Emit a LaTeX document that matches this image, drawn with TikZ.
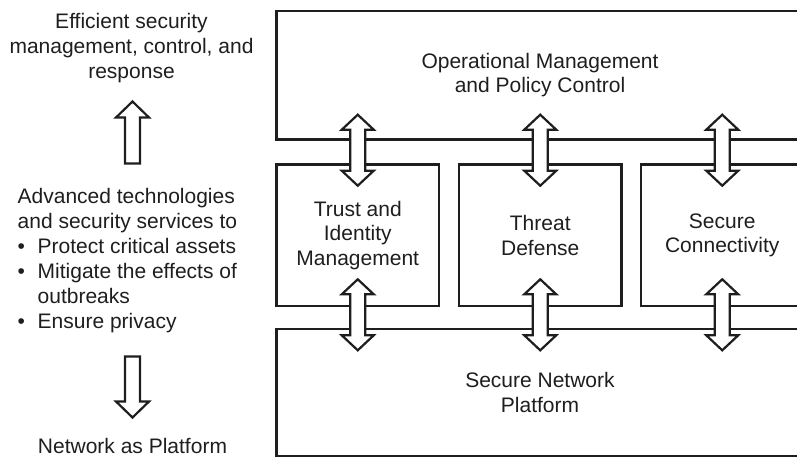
\documentclass[tikz,border=0pt]{standalone}
\usepackage{fontspec}
\setmainfont{Liberation Sans}
\usepackage{tikz}
\usetikzlibrary{calc}
\definecolor{inkgray}{RGB}{30,30,30}

\tikzset{
  pics/dblarrow/.style={code={
    \draw[arrowline] (0,0) -- (16,15) -- (7.5,15) -- (7.5,{#1-15}) -- (16,{#1-15}) -- (0,#1)
      -- (-16,{#1-15}) -- (-7.5,{#1-15}) -- (-7.5,15) -- (-16,15) -- cycle;
  }},
  pics/sglarrow/.style={code={
    \draw[arrowline] (0,0) -- (16.5,16) -- (7.5,16) -- (7.5,#1) -- (-7.5,#1) -- (-7.5,16) -- (-16.5,16) -- cycle;
  }}
}

\begin{document}
\begin{tikzpicture}[x=1pt,y=-1pt,
        panel/.style={draw=inkgray, line width=2.6pt, inner sep=0pt, align=center,
          font=\fontsize{21}{24.5}\selectfont, text=inkgray},
        arrowline/.style={draw=inkgray, line width=2.2pt, fill=white, miter limit=4},
        lbl/.style={inner sep=0pt, font=\fontsize{21}{25}\selectfont, text=inkgray}]
        \useasboundingbox (0,0) rectangle (797,458);
        % layered boxes
        \node[panel, minimum width=527pt, minimum height=128.5pt] (ops) at (540,75.25)
          {Operational Management\\and Policy Control};
        \node[panel, minimum width=162.5pt, minimum height=141.5pt] (trust) at (357.75,235.25)
          {Trust and\\Identity\\Management};
        \node[panel, minimum width=162.5pt, minimum height=141.5pt] (threat) at (540.25,235.25)
          {Threat\\Defense};
        \node[panel, minimum width=162.5pt, minimum height=141.5pt] (secure) at (722.25,235.25)
          {Secure\\Connectivity};
        \node[panel, minimum width=527pt, minimum height=127pt] (snp) at (540,392.5)
          {Secure Network\\Platform};
        % two-way arrows across the layers
        \foreach \b in {trust,threat,secure}{
          \pic at ($(\b.north)+(0,-48.5)$) {dblarrow=71};
          \pic at ($(\b.south)+(0,-28)$) {dblarrow=71};
        }
        % left column
        \node[lbl, align=center] (goal) at (131.5,48)
          {Efficient security\\management, control, and\\response};
        \node[lbl, align=left, anchor=west] (tech) at (17.5,261)
          {Advanced technologies\\and security services to\\
           \makebox[20pt][l]{\textbullet}Protect critical assets\\
           \makebox[20pt][l]{\textbullet}Mitigate the effects of\\
           \hspace*{20pt}outbreaks\\
           \makebox[20pt][l]{\textbullet}Ensure privacy};
        \node[lbl, anchor=base] (nap) at (132.5,453.5) {Network as Platform};
        \pic at (132.5,101.5) {sglarrow=62};
        \pic[rotate=180] at (132.5,417.5) {sglarrow=61};
\end{tikzpicture}
\end{document}
